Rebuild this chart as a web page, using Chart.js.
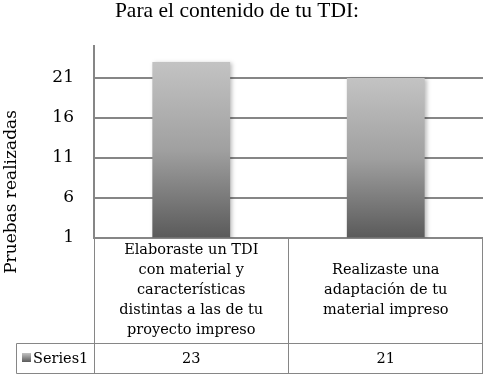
<!DOCTYPE html>
<html><head><meta charset="utf-8">
<script src="https://cdn.jsdelivr.net/npm/chart.js@4"></script>
<style>html,body{margin:0;padding:0;background:#fff}#wrap{width:485px;height:374px;position:relative}</style>
</head><body><div id="wrap"><canvas id="c" width="485" height="374"></canvas></div>
<script>
const chartTitle = "Para el contenido de tu TDI:";
const yTitle = "Pruebas realizadas";
const categories = [
  ["Elaboraste un TDI", "con material y", "características", "distintas a las de tu", "proyecto impreso"],
  ["Realizaste una", "adaptación de tu", "material impreso"]
];
const seriesName = "Series1";
const values = [23, 21];
const yTicks = [1, 6, 11, 16, 21];

const GRID = '#868686';
const SERIF = '"DejaVu Serif", serif';

function barGradient(c) {
  const chart = c.chart, ca = chart.chartArea;
  if (!ca || !chart.scales.y) return '#999';
  const top = chart.scales.y.getPixelForValue(c.raw);
  const g = chart.ctx.createLinearGradient(0, top, 0, ca.bottom);
  g.addColorStop(0, '#c3c3c3');
  g.addColorStop(0.5, '#a0a0a0');
  g.addColorStop(1, '#5a5a5a');
  return g;
}

const shadowPlugin = {
  id: 'barShadow',
  beforeDatasetsDraw(chart) {
    const ctx = chart.ctx;
    ctx.save();
    ctx.shadowColor = 'rgba(0,0,0,0.25)';
    ctx.shadowBlur = 4;
    ctx.shadowOffsetX = 2;
    ctx.shadowOffsetY = 1;
  },
  afterDatasetsDraw(chart) { chart.ctx.restore(); }
};

const tablePlugin = {
  id: 'dataTable',
  afterDraw(chart) {
    const ctx = chart.ctx, ca = chart.chartArea, x = chart.scales.x;
    const n = categories.length;
    const half = (ca.right - ca.left) / n / 2;
    const rowTop = ca.bottom, catBottom = 343, tblBottom = 373, tblLeft = 16;
    ctx.save();
    // chart title
    ctx.fillStyle = '#000';
    ctx.font = '21.5px "Liberation Serif", serif';
    ctx.textAlign = 'center';
    ctx.textBaseline = 'alphabetic';
    ctx.fillText(chartTitle, 237, 17);

    // y axis title
    ctx.save();
    ctx.translate(12, 192);
    ctx.rotate(-Math.PI / 2);
    ctx.font = '17px ' + SERIF;
    ctx.textBaseline = 'middle';
    ctx.fillText(yTitle, 0, 0);
    ctx.restore();

    // table lines
    ctx.strokeStyle = GRID;
    ctx.lineWidth = 1;
    const line = (x1, y1, x2, y2) => { ctx.beginPath(); ctx.moveTo(x1, y1); ctx.lineTo(x2, y2); ctx.stroke(); };
    const R = Math.round(ca.right) - 0.5;
    line(ca.left, rowTop, R + 0.5, rowTop);
    line(tblLeft + 0.5, catBottom + 0.5, R + 0.5, catBottom + 0.5);
    line(tblLeft + 0.5, tblBottom + 0.5, R + 0.5, tblBottom + 0.5);
    line(tblLeft + 0.5, catBottom + 0.5, tblLeft + 0.5, tblBottom + 0.5);
    line(Math.round(ca.left) + 0.5, rowTop, Math.round(ca.left) + 0.5, tblBottom + 0.5);
    for (let i = 0; i < n; i++) {
      const xr = Math.round(x.getPixelForValue(i) + half) - 0.5;
      line(xr, rowTop, xr, tblBottom + 0.5);
    }
    // category text
    ctx.fillStyle = '#000';
    ctx.textBaseline = 'middle';
    ctx.font = '14.5px ' + SERIF;
    const lh = 20;
    const midY = (rowTop + catBottom) / 2;
    categories.forEach((lines, i) => {
      const cx = x.getPixelForValue(i);
      const y0 = midY - (lines.length - 1) * lh / 2;
      lines.forEach((t, k) => ctx.fillText(t, cx, y0 + k * lh));
    });
    // values row
    const vy = (catBottom + tblBottom) / 2 + 1;
    values.forEach((v, i) => ctx.fillText(String(v), x.getPixelForValue(i), vy));
    // legend key
    const g = ctx.createLinearGradient(0, 353, 0, 362);
    g.addColorStop(0, '#c3c3c3'); g.addColorStop(1, '#5a5a5a');
    ctx.fillStyle = g;
    ctx.fillRect(22, 353, 9, 9);
    ctx.fillStyle = '#000';
    ctx.textAlign = 'left';
    ctx.fillText(seriesName, 33, vy);
    ctx.restore();
  }
};

new Chart(document.getElementById('c'), {
  type: 'bar',
  data: {
    labels: categories,
    datasets: [{
      label: seriesName,
      data: values,
      backgroundColor: barGradient,
      borderWidth: 0,
      categoryPercentage: 1,
      barPercentage: 0.4
    }]
  },
  options: {
    responsive: false,
    devicePixelRatio: 1,
    animation: false,
    layout: { padding: { top: 46, bottom: 136, left: 0, right: 2 } },
    plugins: { legend: { display: false }, title: { display: false }, tooltip: { enabled: false } },
    scales: {
      x: { display: false },
      y: {
        min: 1, max: 25, beginAtZero: false,
        afterBuildTicks(scale) { scale.ticks = yTicks.map(v => ({ value: v })); },
        afterFit(scale) { scale.width = 94; },
        grid: { color: GRID, lineWidth: 2, drawTicks: false },
        border: { display: true, color: GRID, width: 2 },
        ticks: { color: '#000', font: { family: SERIF, size: 17 }, padding: 20 },
        title: { display: false }
      }
    }
  },
  plugins: [shadowPlugin, tablePlugin]
});
</script></body></html>
